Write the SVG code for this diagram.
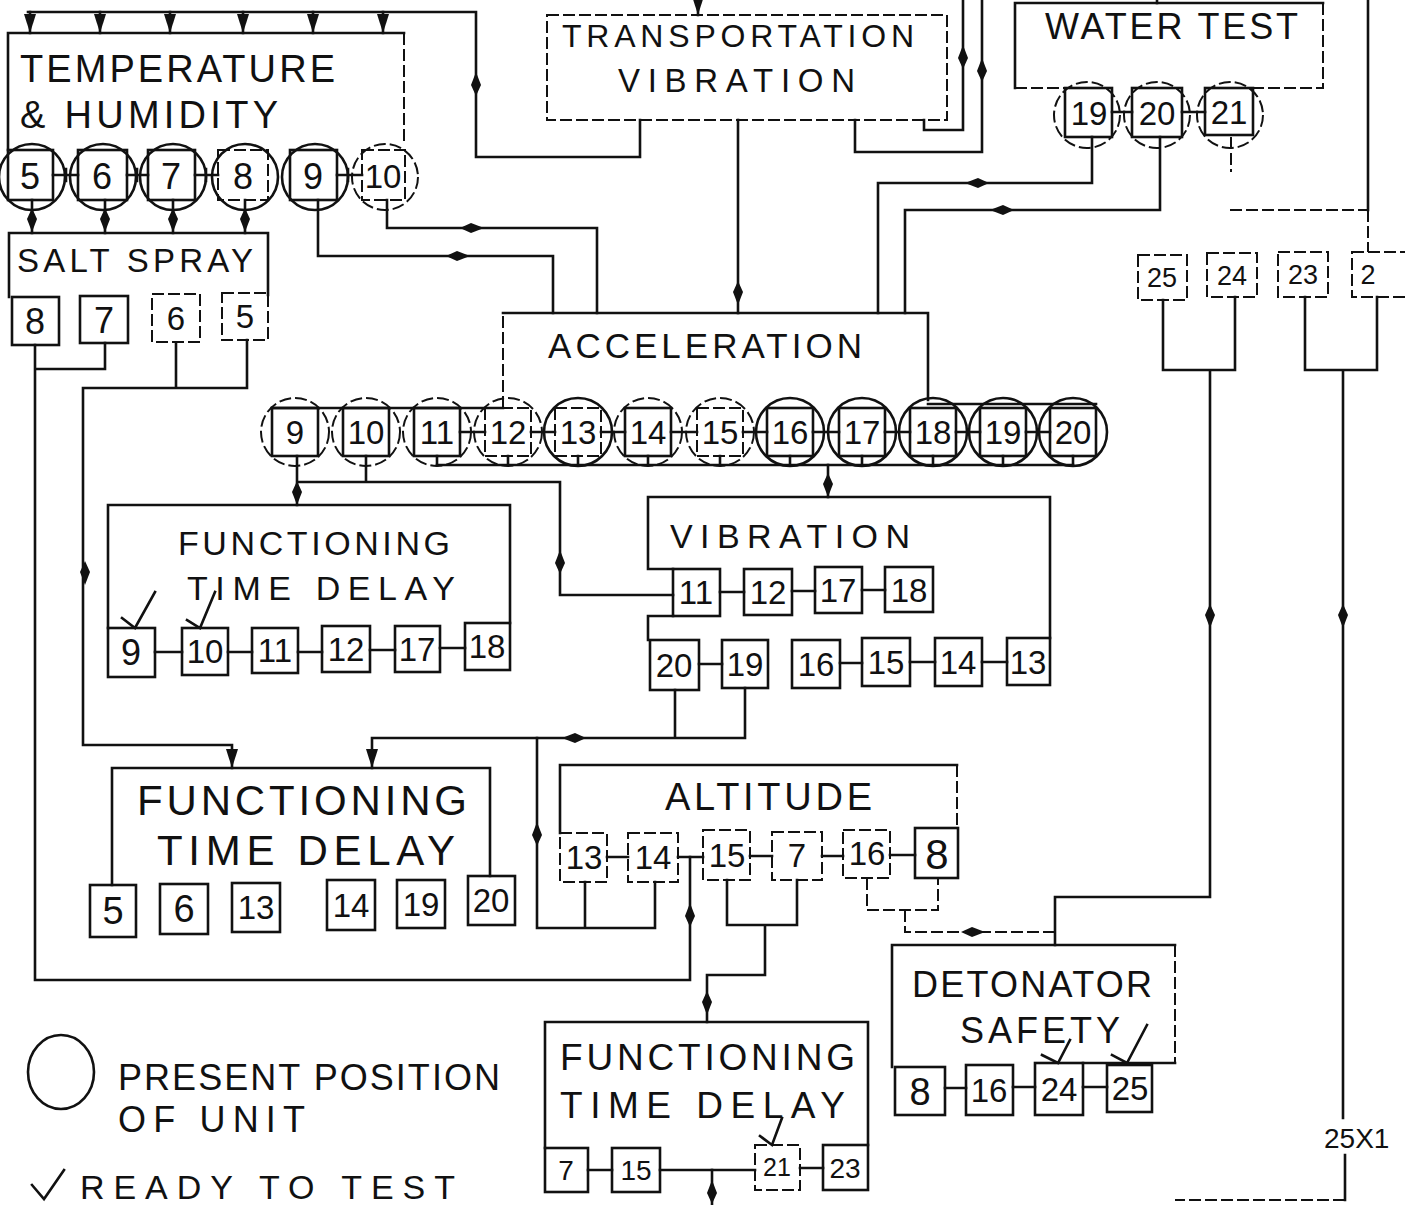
<svg xmlns="http://www.w3.org/2000/svg" xmlns:xlink="http://www.w3.org/1999/xlink" width="1405" height="1205" viewBox="0 0 1405 1205">
<defs>
<style>
.b{fill:none;stroke:#111;stroke-width:2.6;stroke-linecap:square}
.d{fill:none;stroke:#111;stroke-width:2;stroke-dasharray:12 4}
.l{font-family:"Liberation Sans",Arial,sans-serif;fill:#111;font-size:34px}
.n{font-family:"Liberation Sans",Arial,sans-serif;fill:#111;font-size:33px;text-anchor:middle}
.ah{fill:#111;stroke:none}
</style>
<path id="dart" d="M0,0 L5,-13 L0,-24 L-5,-13 Z"/>
<path id="tri" d="M0,0 L6,-19 L-6,-19 Z"/>
</defs>
<rect width="1405" height="1205" fill="#fff"/>

<g id="connectors">
<path class="b" d="M28,12 H476 V157 H640 V120"/>
<path class="b" d="M30,12 V33 M100,12 V33 M170,12 V33 M243,12 V33 M313,12 V33 M383,12 V33"/>
<path class="b" d="M855,120 V152 H982 V0"/>
<path class="b" d="M924,120 V130 H963 V0"/>
<path class="b" d="M698,0 V15"/>
<path class="b" d="M1157,0 V3"/>
<path class="b" d="M32,200 V233 M105,200 V233 M173,200 V233 M245,200 V233"/>
<path class="b" d="M387,200 V228 H597 V313"/>
<path class="b" d="M318,200 V256 H553 V313"/>
<path class="b" d="M738,120 V313"/>
<path class="b" d="M1092,137 V183 H878 V313"/>
<path class="b" d="M1160,137 V210 H905 V313"/>
<path class="d" d="M1231,137 V172 M1230,210 H1368"/>
<path class="b" d="M1368,0 V210"/>
<path class="d" d="M1368,210 V252"/>
<path class="b" d="M1163,300 V370 H1235 V297 M1210,370 V897 H1055 V945"/>
<path class="b" d="M1305,297 V370 H1377 V297 M1343,370 V1118 M1345,1155 V1200"/>
<path class="d" d="M1345,1200 H1175"/>
<path class="b" d="M35,345 V980 H690 V857 M105,343 V369 H35"/>
<path class="b" d="M176,343 V388 M247,340 V388 H83 V745 H232 V768"/>
<path class="b" d="M437,465 H1073"/>
<path class="b" d="M437,456 V465 M508,456 V465 M578,456 V465 M648,456 V465 M720,456 V465 M790,456 V465 M862,456 V465 M933,456 V465 M1003,456 V465 M1073,456 V465"/>
<path class="b" d="M828,465 V497"/>
<path class="b" d="M297,456 V505 M366,456 V482 M297,482 H560 V595 H673"/>
<path class="b" d="M675,690 V738 M745,688 V738 H372 V768"/>
<path class="b" d="M537,738 V928 H655 M585,882 V928 M655,882 V928"/>
<path class="b" d="M727,880 V925 H797 V880 M765,925 V975 H707 V1022"/>
<path class="d" d="M867,878 V910 H938 V878 M905,910 V932 H1055"/>
<path class="b" d="M712,1205 V1170"/>

<use href="#tri" class="ah" transform="translate(30,33)"/>
<use href="#tri" class="ah" transform="translate(100,33)"/>
<use href="#tri" class="ah" transform="translate(170,33)"/>
<use href="#tri" class="ah" transform="translate(243,33)"/>
<use href="#tri" class="ah" transform="translate(313,33)"/>
<use href="#tri" class="ah" transform="translate(383,33)"/>
<use href="#dart" class="ah" transform="translate(476,72) rotate(180)"/>
<use href="#dart" class="ah" transform="translate(32,232)"/>
<use href="#dart" class="ah" transform="translate(105,232)"/>
<use href="#dart" class="ah" transform="translate(173,232)"/>
<use href="#dart" class="ah" transform="translate(245,232)"/>
<use href="#tri" class="ah" transform="translate(698,15) scale(0.8)"/>
<use href="#dart" class="ah" transform="translate(963,45) rotate(180)"/>
<use href="#dart" class="ah" transform="translate(982,58) rotate(180)"/>
<use href="#dart" class="ah" transform="translate(965,183) rotate(90)"/>
<use href="#dart" class="ah" transform="translate(990,210) rotate(90)"/>
<use href="#dart" class="ah" transform="translate(484,228) rotate(-90)"/>
<use href="#dart" class="ah" transform="translate(470,256) rotate(-90)"/>
<use href="#dart" class="ah" transform="translate(738,305)"/>
<use href="#dart" class="ah" transform="translate(297,505)"/>
<use href="#dart" class="ah" transform="translate(828,497)"/>
<use href="#dart" class="ah" transform="translate(560,550) rotate(180)"/>
<use href="#dart" class="ah" transform="translate(85,585)"/>
<use href="#dart" class="ah" transform="translate(562,738) rotate(90)"/>
<use href="#tri" class="ah" transform="translate(232,768)"/>
<use href="#tri" class="ah" transform="translate(372,768)"/>
<use href="#dart" class="ah" transform="translate(537,822) rotate(180)"/>
<use href="#dart" class="ah" transform="translate(690,903) rotate(180)"/>
<use href="#dart" class="ah" transform="translate(707,1015)"/>
<use href="#dart" class="ah" transform="translate(985,932) rotate(-90)"/>
<use href="#dart" class="ah" transform="translate(1210,628)"/>
<use href="#dart" class="ah" transform="translate(1343,628)"/>
<use href="#dart" class="ah" transform="translate(712,1180) rotate(180)"/>
</g>

<g id="temperature-humidity">
<path class="b" d="M8,150 V33 H404"/>
<path class="d" d="M404,33 V145"/>
<text class="l" style="font-size:38px" x="20" y="82" textLength="315" lengthAdjust="spacing">TEMPERATURE</text>
<text class="l" style="font-size:38px" x="20" y="128" textLength="258" lengthAdjust="spacing">&amp; HUMIDITY</text>
<circle class="b" cx="32" cy="177" r="33"/>
<circle class="b" cx="103" cy="177" r="33"/>
<circle class="b" cx="173" cy="177" r="33"/>
<circle class="b" cx="245" cy="177" r="33"/>
<circle class="b" cx="315" cy="177" r="33"/>
<circle class="d" cx="385" cy="177" r="33"/>
<rect class="b" x="8" y="150" width="45" height="50"/>
<rect class="b" x="78" y="150" width="49" height="50"/>
<rect class="b" x="148" y="150" width="47" height="50"/>
<rect class="d" x="218" y="150" width="50" height="50"/>
<rect class="b" x="290" y="150" width="47" height="50"/>
<rect class="d" x="362" y="150" width="43" height="50"/>
<path class="b" d="M53,175 H78 M66,169 V181 M127,175 H148 M137,169 V181 M195,175 H218 M206,169 V181 M337,175 H362 M348,169 V181"/>
<text class="n" style="font-size:36px" x="30" y="189">5</text>
<text class="n" style="font-size:36px" x="102" y="189">6</text>
<text class="n" style="font-size:36px" x="171" y="189">7</text>
<text class="n" style="font-size:36px" x="243" y="189">8</text>
<text class="n" style="font-size:36px" x="313" y="189">9</text>
<text class="n" x="383" y="188">10</text>
</g>

<g id="salt-spray">
<path class="b" d="M9,297 V233 H268 V295"/>
<text class="l" style="font-size:33px" x="17" y="272" textLength="236" lengthAdjust="spacing">SALT SPRAY</text>
<rect class="b" x="12" y="297" width="47" height="48"/>
<rect class="b" x="80" y="296" width="48" height="47"/>
<rect class="d" x="152" y="294" width="48" height="48"/>
<rect class="d" x="222" y="293" width="46" height="47"/>
<text class="n" style="font-size:36px" x="35" y="334">8</text>
<text class="n" style="font-size:36px" x="104" y="333">7</text>
<text class="n" x="176" y="330">6</text>
<text class="n" x="245" y="328">5</text>
</g>

<g id="transportation-vibration">
<rect class="d" x="547" y="15" width="400" height="105"/>
<text class="l" style="font-size:32px" x="562" y="47" textLength="352" lengthAdjust="spacing">TRANSPORTATION</text>
<text class="l" style="font-size:33px" x="618" y="92" textLength="237" lengthAdjust="spacing">VIBRATION</text>
</g>

<g id="water-test">
<path class="b" d="M1015,88 V3 H1323"/>
<path class="d" d="M1323,3 V88 H1253 M1015,88 H1065"/>
<text class="l" style="font-size:36px" x="1045" y="39" textLength="253" lengthAdjust="spacing">WATER TEST</text>
<circle class="d" cx="1087" cy="115" r="33"/>
<circle class="d" cx="1157" cy="115" r="33"/>
<circle class="d" cx="1230" cy="115" r="33"/>
<rect class="b" x="1065" y="88" width="47" height="49"/>
<rect class="b" x="1132" y="88" width="50" height="49"/>
<rect class="b" x="1205" y="88" width="48" height="47"/>
<path class="b" d="M1112,112 H1132 M1182,112 H1205"/>
<text class="n" x="1089" y="125">19</text>
<text class="n" x="1157" y="125">20</text>
<text class="n" x="1229" y="124">21</text>
</g>

<g id="units-25-22">
<rect class="d" x="1138" y="255" width="49" height="45"/>
<rect class="d" x="1207" y="253" width="50" height="44"/>
<rect class="d" x="1278" y="252" width="50" height="45"/>
<rect class="d" x="1352" y="252" width="60" height="45"/>
<text class="n" style="font-size:27px" x="1162" y="287">25</text>
<text class="n" style="font-size:27px" x="1232" y="285">24</text>
<text class="n" style="font-size:27px" x="1303" y="284">23</text>
<text class="n" style="font-size:27px" x="1368" y="284">2</text>
</g>

<g id="acceleration">
<path class="d" d="M503,408 V313"/>
<path class="b" d="M503,313 H928 V400"/>
<text class="l" style="font-size:35px" x="548" y="358" textLength="314" lengthAdjust="spacing">ACCELERATION</text>
<path class="b" d="M272,408 H503 M928,404 H1096"/>
<circle class="d" cx="295" cy="432" r="34"/>
<circle class="d" cx="366" cy="432" r="34"/>
<circle class="d" cx="437" cy="432" r="34"/>
<circle class="d" cx="508" cy="432" r="34"/>
<circle class="b" cx="578" cy="432" r="34"/>
<circle class="d" cx="648" cy="432" r="34"/>
<circle class="d" cx="720" cy="432" r="34"/>
<circle class="b" cx="790" cy="432" r="34"/>
<circle class="b" cx="862" cy="432" r="34"/>
<circle class="b" cx="933" cy="432" r="34"/>
<circle class="b" cx="1003" cy="432" r="34"/>
<circle class="b" cx="1073" cy="432" r="34"/>
<rect class="b" x="272" y="408" width="46" height="48"/>
<rect class="b" x="343" y="408" width="46" height="48"/>
<rect class="b" x="414" y="408" width="46" height="48"/>
<rect class="d" x="485" y="408" width="46" height="48"/>
<rect class="d" x="555" y="408" width="46" height="48"/>
<rect class="b" x="625" y="408" width="46" height="48"/>
<rect class="d" x="697" y="408" width="46" height="48"/>
<rect class="b" x="767" y="408" width="46" height="48"/>
<rect class="b" x="839" y="408" width="46" height="48"/>
<rect class="b" x="910" y="408" width="46" height="48"/>
<rect class="b" x="980" y="408" width="46" height="48"/>
<rect class="b" x="1050" y="408" width="46" height="48"/>
<path class="b" d="M460,432 H485 M531,432 H555 M601,432 H625 M671,432 H697 M743,432 H767 M813,432 H839 M885,432 H910 M956,432 H980 M1026,432 H1050"/>
<text class="n" x="295" y="444">9</text>
<text class="n" x="366" y="444">10</text>
<text class="n" x="437" y="444">11</text>
<text class="n" x="508" y="444">12</text>
<text class="n" x="578" y="444">13</text>
<text class="n" x="648" y="444">14</text>
<text class="n" x="720" y="444">15</text>
<text class="n" x="790" y="444">16</text>
<text class="n" x="862" y="444">17</text>
<text class="n" x="933" y="444">18</text>
<text class="n" x="1003" y="444">19</text>
<text class="n" x="1073" y="444">20</text>
</g>

<g id="functioning-time-delay-1">
<path class="b" d="M108,628 V505 H510 V623"/>
<text class="l" style="font-size:34px" x="178" y="555" textLength="272" lengthAdjust="spacing">FUNCTIONING</text>
<text class="l" style="font-size:34px" x="187" y="600" textLength="268" lengthAdjust="spacing">TIME DELAY</text>
<rect class="b" x="108" y="628" width="47" height="49"/>
<rect class="b" x="182" y="628" width="46" height="47"/>
<rect class="b" x="252" y="628" width="46" height="45"/>
<rect class="b" x="322" y="626" width="48" height="46"/>
<rect class="b" x="395" y="626" width="45" height="46"/>
<rect class="b" x="465" y="623" width="45" height="47"/>
<path class="b" d="M155,652 H182 M228,652 H252 M298,652 H322 M370,650 H395 M440,648 H465"/>
<path class="b" d="M155,592 L135,628 L122,618 M215,592 L200,628 L187,620"/>
<text class="n" style="font-size:36px" x="131" y="665">9</text>
<text class="n" x="205" y="663">10</text>
<text class="n" x="275" y="662">11</text>
<text class="n" x="346" y="661">12</text>
<text class="n" x="417" y="661">17</text>
<text class="n" x="487" y="658">18</text>
</g>

<g id="vibration">
<path class="b" d="M673,569 H648 V497 H1050 V638"/>
<path class="b" d="M673,616 H648 V640"/>
<text class="l" style="font-size:34px" x="670" y="548" textLength="240" lengthAdjust="spacing">VIBRATION</text>
<rect class="b" x="673" y="569" width="47" height="47"/>
<rect class="b" x="744" y="569" width="48" height="46"/>
<rect class="b" x="815" y="567" width="47" height="46"/>
<rect class="b" x="885" y="567" width="48" height="45"/>
<rect class="b" x="650" y="640" width="49" height="50"/>
<rect class="b" x="722" y="640" width="46" height="48"/>
<rect class="b" x="792" y="640" width="48" height="48"/>
<rect class="b" x="862" y="638" width="48" height="48"/>
<rect class="b" x="935" y="638" width="47" height="48"/>
<rect class="b" x="1007" y="638" width="43" height="47"/>
<path class="b" d="M720,592 H744 M792,591 H815 M862,590 H885 M699,664 H722 M840,663 H862 M910,662 H935 M982,662 H1007"/>
<text class="n" x="696" y="604">11</text>
<text class="n" x="768" y="604">12</text>
<text class="n" x="838" y="602">17</text>
<text class="n" x="909" y="602">18</text>
<text class="n" x="674" y="677">20</text>
<text class="n" x="745" y="676">19</text>
<text class="n" x="816" y="676">16</text>
<text class="n" x="886" y="674">15</text>
<text class="n" x="958" y="674">14</text>
<text class="n" x="1028" y="674">13</text>
</g>

<g id="functioning-time-delay-2">
<path class="b" d="M112,885 V768 H490 V876"/>
<text class="l" style="font-size:42px" x="137" y="815" textLength="330" lengthAdjust="spacing">FUNCTIONING</text>
<text class="l" style="font-size:42px" x="157" y="865" textLength="298" lengthAdjust="spacing">TIME DELAY</text>
<rect class="b" x="90" y="885" width="46" height="52"/>
<rect class="b" x="160" y="884" width="48" height="50"/>
<rect class="b" x="232" y="883" width="48" height="49"/>
<rect class="b" x="327" y="880" width="48" height="50"/>
<rect class="b" x="397" y="880" width="48" height="48"/>
<rect class="b" x="468" y="876" width="47" height="49"/>
<text class="n" style="font-size:38px" x="113" y="924">5</text>
<text class="n" style="font-size:38px" x="184" y="922">6</text>
<text class="n" x="256" y="919">13</text>
<text class="n" x="351" y="917">14</text>
<text class="n" x="421" y="916">19</text>
<text class="n" x="491" y="912">20</text>
</g>

<g id="altitude">
<path class="b" d="M560,833 V765 H957"/>
<path class="d" d="M957,765 V828"/>
<text class="l" style="font-size:38px" x="665" y="810" textLength="207" lengthAdjust="spacing">ALTITUDE</text>
<rect class="d" x="560" y="833" width="47" height="49"/>
<rect class="d" x="628" y="833" width="50" height="49"/>
<rect class="d" x="703" y="830" width="47" height="50"/>
<rect class="d" x="772" y="832" width="50" height="48"/>
<rect class="d" x="843" y="830" width="47" height="48"/>
<rect class="b" x="915" y="828" width="43" height="50"/>
<path class="b" d="M607,857 H628 M678,857 H703 M750,856 H772 M822,856 H843 M890,855 H915"/>
<text class="n" x="584" y="869">13</text>
<text class="n" x="653" y="869">14</text>
<text class="n" x="727" y="867">15</text>
<text class="n" x="797" y="867">7</text>
<text class="n" x="867" y="865">16</text>
<text class="n" style="font-size:42px" x="937" y="869">8</text>
</g>

<g id="detonator-safety">
<path class="b" d="M892,1067 V945 H1175"/>
<path class="d" d="M1175,945 V1063"/>
<path class="b" d="M1175,1063 H1083"/>
<text class="l" style="font-size:36px" x="912" y="997" textLength="240" lengthAdjust="spacing">DETONATOR</text>
<text class="l" style="font-size:36px" x="960" y="1043" textLength="160" lengthAdjust="spacing">SAFETY</text>
<rect class="b" x="895" y="1067" width="50" height="48"/>
<rect class="b" x="966" y="1065" width="47" height="50"/>
<rect class="b" x="1035" y="1063" width="48" height="52"/>
<rect class="b" x="1107" y="1065" width="45" height="47"/>
<path class="b" d="M945,1088 H966 M1013,1087 H1035 M1083,1087 H1107"/>
<path class="b" d="M1070,1040 L1058,1063 L1042,1055 M1147,1025 L1127,1063 L1112,1055"/>
<text class="n" style="font-size:38px" x="920" y="1105">8</text>
<text class="n" x="989" y="1102">16</text>
<text class="n" x="1059" y="1101">24</text>
<text class="n" x="1130" y="1100">25</text>
</g>

<g id="functioning-time-delay-3">
<path class="b" d="M545,1148 V1022 H868 V1145"/>
<text class="l" style="font-size:37px" x="560" y="1070" textLength="295" lengthAdjust="spacing">FUNCTIONING</text>
<text class="l" style="font-size:37px" x="560" y="1118" textLength="285" lengthAdjust="spacing">TIME DELAY</text>
<rect class="b" x="545" y="1148" width="43" height="44"/>
<rect class="b" x="612" y="1148" width="48" height="44"/>
<rect class="d" x="755" y="1145" width="45" height="45"/>
<rect class="b" x="823" y="1145" width="45" height="45"/>
<path class="b" d="M588,1170 H612 M660,1170 H755 M800,1168 H823"/>
<path class="b" d="M782,1118 L772,1145 L760,1136"/>
<text class="n" style="font-size:28px" x="566" y="1180">7</text>
<text class="n" style="font-size:28px" x="636" y="1180">15</text>
<text class="n" style="font-size:25px" x="777" y="1176">21</text>
<text class="n" style="font-size:28px" x="845" y="1178">23</text>
</g>

<g id="legend">
<ellipse class="b" cx="61" cy="1072" rx="33" ry="37"/>
<text class="l" style="font-size:36px" x="118" y="1090" textLength="382" lengthAdjust="spacing">PRESENT POSITION</text>
<text class="l" style="font-size:36px" x="118" y="1132" textLength="187" lengthAdjust="spacing">OF UNIT</text>
<path class="b" d="M32,1185 L44,1199 L64,1170"/>
<text class="l" style="font-size:34px" x="80" y="1199" textLength="375" lengthAdjust="spacing">READY TO TEST</text>
</g>

<g id="stamp">
<text x="1324" y="1148" style="font-family:'Liberation Sans',Arial,sans-serif;font-size:28px;fill:#111">25X1</text>
</g>
</svg>
